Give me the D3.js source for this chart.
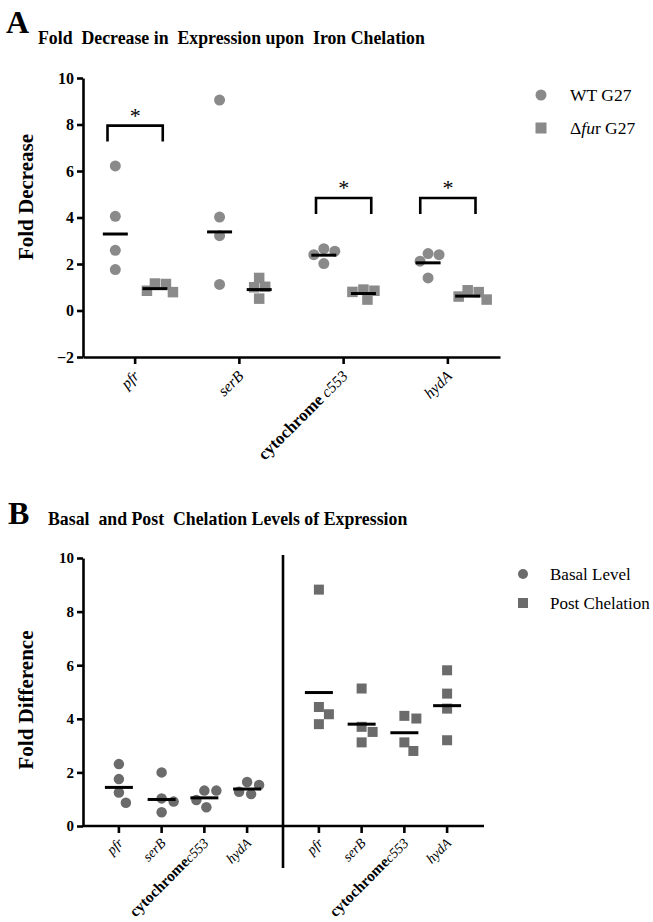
<!DOCTYPE html>
<html><head><meta charset="utf-8">
<script src="https://cdn.jsdelivr.net/npm/d3@7"></script>
<style>
html,body{margin:0;padding:0;background:#fff;}
</style></head>
<body><svg id="chart" width="653" height="922"></svg>
<script>
// ---------- DATA ----------
const genes = ["pfr", "serB", "cytochrome c553", "hydA"];
const yTicksA = [-2, 0, 2, 4, 6, 8, 10];
const yTicksB = [0, 2, 4, 6, 8, 10];
// Panel A: fold decrease
const wtValues = [[6.22, 4.05, 2.59, 1.76], [9.05, 4.02, 3.22, 1.12], [2.66, 2.55, 2.40, 2.02], [2.45, 2.40, 2.12, 1.40]];
const wtCenter = [3.29, 3.38, 2.38, 2.05];
const furValues = [[1.16, 1.14, 0.85, 0.79], [1.40, 1.02, 1.00, 0.51], [0.90, 0.85, 0.80, 0.47], [0.87, 0.79, 0.60, 0.47]];
const furCenter = [0.94, 0.90, 0.73, 0.62];
const sigTop = [7.95, null, 4.84, 4.84];
const sigLeg = [7.27, null, 4.15, 4.15];
const legendA = ["WT G27", "Δfur G27"];
// Panel B: fold difference
const groupsB = ["Basal Level", "Post Chelation"];
const basalValues = [[2.31, 1.75, 1.25, 0.87], [2.00, 1.03, 0.91, 0.51], [1.32, 1.32, 0.97, 0.70], [1.64, 1.53, 1.28, 1.19]];
const basalCenter = [1.44, 0.99, 1.05, 1.38];
const postValues = [[8.82, 4.44, 4.17, 3.80], [5.13, 3.70, 3.51, 3.12], [4.11, 4.01, 3.12, 2.80], [5.81, 4.94, 4.38, 3.20]];
const postCenter = [4.98, 3.80, 3.48, 4.49];

// ---------- HELPERS ----------
const svg = d3.select("#chart");
function dodge(vals, y, cx, minD) {
  const order = vals.map((v, i) => i).sort((a, b) => vals[b] - vals[a]);
  const placed = [], out = new Array(vals.length);
  for (const i of order) {
    const py = y(vals[i]);
    let px = cx;
    outer: for (let k = 0; k <= 40; k++) {
      for (const s of (k === 0 ? [0] : [k, -k])) {
        const cand = cx + s;
        if (placed.every(p => Math.hypot(p[0] - cand, p[1] - py) >= minD)) { px = cand; break outer; }
      }
    }
    placed.push([px, py]);
    out[i] = { v: vals[i], x: px, y: py };
  }
  return out;
}
function geneLabel(sel, name, size) {
  if (name.startsWith("cytochrome")) {
    sel.append("tspan").attr("font-weight", "bold").attr("font-style", "normal").attr("font-size", size + 1.5).text("cytochrome");
    sel.append("tspan").attr("font-style", "italic").text(name.slice(10));
  } else {
    sel.attr("font-style", "italic").text(name);
  }
}
function styleAxis(g, fs) {
  g.attr("font-family", null);
  g.select(".domain").attr("stroke", "#000").attr("stroke-width", 2.6);
  g.selectAll(".tick line").attr("stroke", "#000").attr("stroke-width", 2.6);
  g.selectAll(".tick text").attr("font-weight", "bold").attr("font-size", fs).attr("fill", "#000");
}
function drawDots(g, pts, color, shape, size) {
  if (shape === "circle") {
    g.selectAll(null).data(pts).join("circle").attr("cx", d => d.x).attr("cy", d => d.y).attr("r", size / 2).attr("fill", color);
  } else {
    g.selectAll(null).data(pts).join("rect").attr("x", d => d.x - size / 2).attr("y", d => d.y - size / 2)
      .attr("width", size).attr("height", size).attr("fill", color);
  }
}

// ---------- PANEL A ----------
const colA = "#8a8a8a";
const yA = d3.scaleLinear().domain([-2, 10]).range([357, 78]);
const xA = d3.scaleBand().domain(genes).range([83, 500]);
const cA = g => xA(g) + xA.bandwidth() / 2;
const offA = xA.bandwidth() * 0.19;

svg.append("text").attr("x", 6).attr("y", 33).attr("font-size", 32).attr("font-weight", "bold").text("A");
svg.append("text").attr("x", 38).attr("y", 44).attr("font-size", 17.8).attr("font-weight", "bold")
  .text("Fold  Decrease in  Expression upon  Iron Chelation");

const gyA = svg.append("g").attr("transform", "translate(83,0)")
  .call(d3.axisLeft(yA).tickValues(yTicksA).tickSize(6).tickSizeOuter(0).tickPadding(3));
styleAxis(gyA, 16);
const gxA = svg.append("g").attr("transform", "translate(0,357)")
  .call(d3.axisBottom(xA).tickSize(7).tickSizeOuter(0));
styleAxis(gxA, 15);
gxA.selectAll(".tick text").remove();
gxA.selectAll(".tick").append("text")
  .attr("transform", "translate(5,20) rotate(-45)")
  .attr("text-anchor", "end").attr("font-size", 15.5).attr("fill", "#000")
  .each(function (d) { geneLabel(d3.select(this), d, 15.5); });

svg.append("text").attr("transform", "translate(33,197) rotate(-90)").attr("text-anchor", "middle")
  .attr("font-size", 21).attr("font-weight", "bold").text("Fold Decrease");

const pA = svg.append("g");
genes.forEach((g, i) => {
  const cw = cA(g) - offA, cf = cA(g) + offA;
  drawDots(pA, dodge(wtValues[i], yA, cw, 11), colA, "circle", 11);
  drawDots(pA, dodge(furValues[i], yA, cf, 10.5), colA, "square", 10.5);
  pA.append("line").attr("x1", cw - 12.5).attr("x2", cw + 12.5).attr("y1", yA(wtCenter[i])).attr("y2", yA(wtCenter[i]))
    .attr("stroke", "#000").attr("stroke-width", 3);
  pA.append("line").attr("x1", cf - 12.5).attr("x2", cf + 12.5).attr("y1", yA(furCenter[i])).attr("y2", yA(furCenter[i]))
    .attr("stroke", "#000").attr("stroke-width", 3);
  if (sigTop[i] != null) {
    const x0 = cA(g) - xA.bandwidth() * 0.265, x1 = cA(g) + xA.bandwidth() * 0.265;
    pA.append("path").attr("d", `M${x0},${yA(sigLeg[i])}V${yA(sigTop[i])}H${x1}V${yA(sigLeg[i])}`)
      .attr("fill", "none").attr("stroke", "#000").attr("stroke-width", 2.6);
    pA.append("text").attr("x", cA(g)).attr("y", yA(sigTop[i]) - 3).attr("text-anchor", "middle")
      .attr("font-size", 22).text("*");
  }
});
// legend A
const lgA = svg.append("g");
lgA.append("circle").attr("cx", 541).attr("cy", 95).attr("r", 5.5).attr("fill", colA);
lgA.append("text").attr("x", 570).attr("y", 101).attr("font-size", 17.5).text(legendA[0]);
lgA.append("rect").attr("x", 535.5).attr("y", 122.5).attr("width", 11).attr("height", 11).attr("fill", colA);
const t2 = lgA.append("text").attr("x", 570).attr("y", 134).attr("font-size", 17.5);
t2.append("tspan").text("Δ");
t2.append("tspan").attr("font-style", "italic").text("fu");
t2.append("tspan").text("r G27");

// ---------- PANEL B ----------
const colB = "#6b6b6b";
const yB = d3.scaleLinear().domain([0, 10]).range([826, 558]);
const gB = d3.scaleBand().domain(groupsB).range([83, 483]);
const inB = d3.scalePoint().domain(genes).range([0, gB.bandwidth()]).padding(0.84);
const xB = (grp, g) => gB(grp) + inB(g);

svg.append("text").attr("x", 8).attr("y", 524).attr("font-size", 32).attr("font-weight", "bold").text("B");
svg.append("text").attr("x", 48).attr("y", 525).attr("font-size", 17.8).attr("font-weight", "bold")
  .text("Basal  and Post  Chelation Levels of Expression");

const gyB = svg.append("g").attr("transform", "translate(83,0)")
  .call(d3.axisLeft(yB).tickValues(yTicksB).tickSize(6).tickSizeOuter(0).tickPadding(3));
styleAxis(gyB, 15);
const gxB = svg.append("g");
gxB.append("line").attr("x1", 83).attr("x2", 484).attr("y1", yB(0)).attr("y2", yB(0)).attr("stroke", "#000").attr("stroke-width", 2.6);
groupsB.forEach(grp => {
  genes.forEach(g => {
    const x = xB(grp, g);
    gxB.append("line").attr("x1", x).attr("x2", x).attr("y1", yB(0)).attr("y2", yB(0) + 7).attr("stroke", "#000").attr("stroke-width", 2.6);
    const t = gxB.append("text").attr("transform", `translate(${x + 5},${yB(0) + 18}) rotate(-45)`)
      .attr("text-anchor", "end").attr("font-size", 14);
    geneLabel(t, g.replace(" ", ""), 14);
  });
});
// divider
gxB.append("line").attr("x1", gB("Post Chelation")).attr("x2", gB("Post Chelation"))
  .attr("y1", yB(10) - 3).attr("y2", yB(0) + 42).attr("stroke", "#000").attr("stroke-width", 2.6);

svg.append("text").attr("transform", "translate(33,700) rotate(-90)").attr("text-anchor", "middle")
  .attr("font-size", 21).attr("font-weight", "bold").text("Fold Difference");

const pB = svg.append("g");
genes.forEach((g, i) => {
  const xb = xB("Basal Level", g), xp = xB("Post Chelation", g);
  drawDots(pB, dodge(basalValues[i], yB, xb, 12), colB, "circle", 10.5);
  drawDots(pB, dodge(postValues[i], yB, xp, 12), colB, "square", 10);
  pB.append("line").attr("x1", xb - 14).attr("x2", xb + 14).attr("y1", yB(basalCenter[i])).attr("y2", yB(basalCenter[i]))
    .attr("stroke", "#000").attr("stroke-width", 3);
  pB.append("line").attr("x1", xp - 14).attr("x2", xp + 14).attr("y1", yB(postCenter[i])).attr("y2", yB(postCenter[i]))
    .attr("stroke", "#000").attr("stroke-width", 3);
});
// legend B
const lgB = svg.append("g");
lgB.append("circle").attr("cx", 523).attr("cy", 574).attr("r", 5).attr("fill", colB);
lgB.append("text").attr("x", 550).attr("y", 580).attr("font-size", 17).text(groupsB[0]);
lgB.append("rect").attr("x", 518).attr("y", 598).attr("width", 10).attr("height", 10).attr("fill", colB);
lgB.append("text").attr("x", 550).attr("y", 609).attr("font-size", 17).text(groupsB[1]);

// fonts: apply serif face to every text
svg.selectAll("text").style("font-family", "Liberation Serif").style("white-space", "pre");
</script></body></html>
